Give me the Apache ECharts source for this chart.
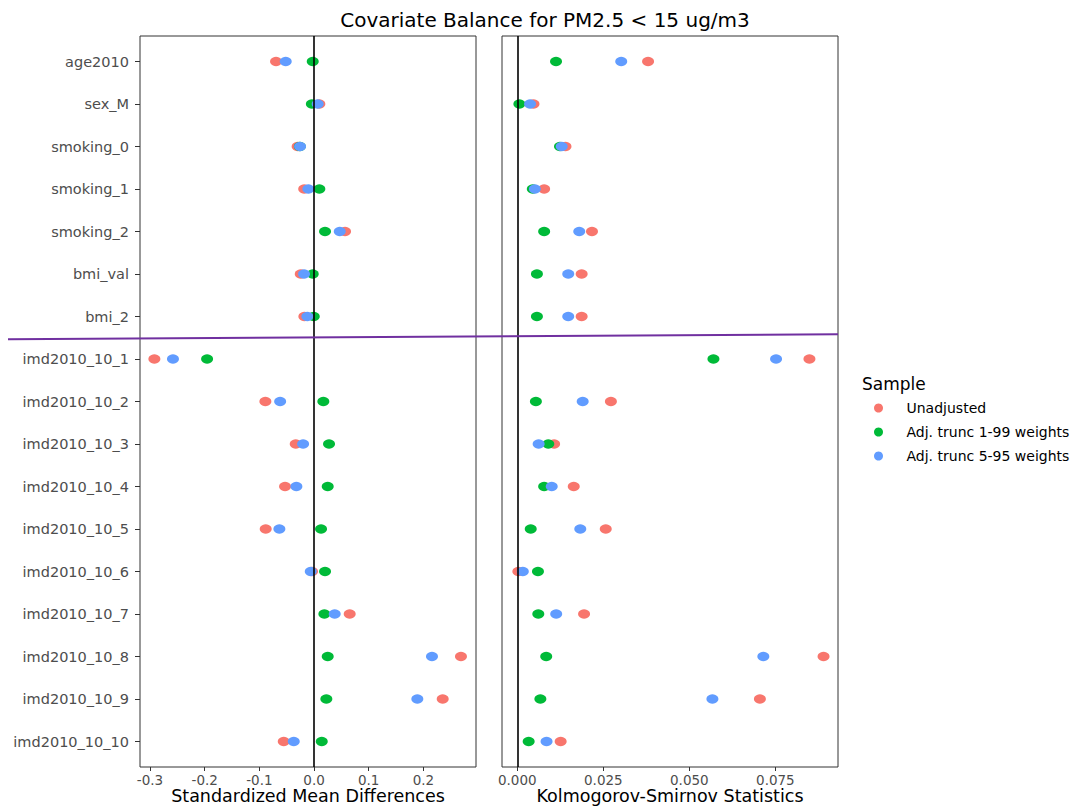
<!DOCTYPE html>
<html>
<head>
<meta charset="utf-8">
<script src="https://cdn.jsdelivr.net/npm/echarts@6/dist/echarts.min.js"></script>
<style>
html,body{margin:0;padding:0;background:#fff;}
#chart{width:1074px;height:808px;}
</style>
</head>
<body>
<div id="chart"></div>
<script>
const categories = ['age2010','sex_M','smoking_0','smoking_1','smoking_2','bmi_val','bmi_2',
  'imd2010_10_1','imd2010_10_2','imd2010_10_3','imd2010_10_4','imd2010_10_5',
  'imd2010_10_6','imd2010_10_7','imd2010_10_8','imd2010_10_9','imd2010_10_10'];
const seriesNames = ['Unadjusted','Adj. trunc 1-99 weights','Adj. trunc 5-95 weights'];
const seriesColors = ['#F8766D','#00BA38','#619CFF'];

const smdUnadj  = [-0.0695, 0.0097, -0.030, -0.018, 0.0567, -0.0243, -0.0177, -0.292, -0.089, -0.0335, -0.053, -0.0884, -0.0037, 0.0652, 0.2687, 0.2353, -0.0554];
const smdAdj199 = [-0.0024, -0.004, -0.026, 0.0097, 0.0201, -0.0024, -0.0005, -0.1956, 0.017, 0.0274, 0.025, 0.0128, 0.0201, 0.0189, 0.025, 0.0225, 0.0141];
const smdAdj595 = [-0.0518, 0.0067, -0.0256, -0.0104, 0.047, -0.0183, -0.0122, -0.258, -0.062, -0.020, -0.0323, -0.0634, -0.006, 0.0378, 0.2157, 0.1889, -0.0371];

const ksUnadj  = [0.038, 0.0047, 0.014, 0.0078, 0.0217, 0.0187, 0.0187, 0.0849, 0.0272, 0.0107, 0.0164, 0.0257, 0.0003, 0.0194, 0.089, 0.0705, 0.0126];
const ksAdj199 = [0.01125, 0.0006, 0.0124, 0.0045, 0.0078, 0.0057, 0.0057, 0.057, 0.0054, 0.009, 0.0078, 0.0039, 0.006, 0.0061, 0.0084, 0.0067, 0.0033];
const ksAdj595 = [0.0302, 0.0037, 0.0129, 0.0051, 0.018, 0.0148, 0.0148, 0.0752, 0.019, 0.0062, 0.01, 0.0183, 0.0016, 0.0113, 0.0715, 0.0567, 0.0085];

const smdTicks = [-0.3, -0.2, -0.1, 0, 0.1, 0.2];
const ksTicks = [0, 0.025, 0.05, 0.075];

const FONT = 'DejaVu Sans';
const catIdx = categories.map((c, i) => i);

function pts(vals) { return vals.map((v, i) => [v, i]); }

function mkSeries(name, color, vals, axisIdx, withZero) {
  const s = {
    name: name, type: 'scatter', xAxisIndex: axisIdx, yAxisIndex: axisIdx,
    data: pts(vals), symbol: 'circle', symbolSize: [12, 9.5],
    itemStyle: {color: color, opacity: 1}, emphasis: {disabled: true}, silent: true
  };
  if (withZero) {
    s.markLine = {
      silent: true, symbol: ['none','none'], label: {show: false},
      lineStyle: {color: '#000', width: 1.6, type: 'solid'},
      emphasis: {disabled: true},
      data: [{xAxis: 0}]
    };
  }
  return s;
}

const yAxisBase = {
  type: 'value', inverse: true, min: -0.6, max: 16.6,
  splitLine: {show: false}, axisLine: {show: false, onZero: false}
};

const option = {
  animation: false,
  backgroundColor: '#fff',
  title: [
    {text: 'Covariate Balance for PM2.5 < 15 ug/m3', left: 540, top: 5, textAlign: 'center',
     textStyle: {fontFamily: FONT, fontSize: 20, fontWeight: 'normal', color: '#000'}},
    {text: 'Sample', left: 857, top: 370,
     textStyle: {fontFamily: FONT, fontSize: 17, fontWeight: 'normal', color: '#000'}}
  ],
  legend: {
    orient: 'vertical', left: 869, top: 396, itemGap: 10,
    itemWidth: 12, itemHeight: 9, icon: 'circle',
    data: seriesNames,
    textStyle: {fontFamily: FONT, fontSize: 14, color: '#000', padding: [0, 0, 0, 17]},
    selectedMode: false
  },
  grid: [
    {left: 140, top: 36, width: 336, height: 731, show: true, borderColor: '#333', borderWidth: 1,
     backgroundColor: 'transparent', outerBoundsMode: 'none', containLabel: false},
    {left: 502, top: 36, width: 336, height: 731, show: true, borderColor: '#333', borderWidth: 1,
     backgroundColor: 'transparent', outerBoundsMode: 'none', containLabel: false}
  ],
  xAxis: [
    {type: 'value', gridIndex: 0, min: -0.3183, max: 0.2962, position: 'bottom',
     name: 'Standardized Mean Differences', nameLocation: 'middle', nameGap: 20, nameMoveOverlap: false,
     nameTextStyle: {fontFamily: FONT, fontSize: 17.5, color: '#000', verticalAlign: 'top'},
     splitLine: {show: false}, axisLine: {show: false, onZero: false},
     axisTick: {show: true, length: 4, customValues: smdTicks, lineStyle: {color: '#333'}},
     axisLabel: {customValues: smdTicks, margin: 6, fontFamily: FONT, fontSize: 13.5, color: '#4d4d4d',
       formatter: v => v.toFixed(1)}},
    {type: 'value', gridIndex: 1, min: -0.00445, max: 0.0932, position: 'bottom',
     name: 'Kolmogorov-Smirnov Statistics', nameLocation: 'middle', nameGap: 20, nameMoveOverlap: false,
     nameTextStyle: {fontFamily: FONT, fontSize: 17.5, color: '#000', verticalAlign: 'top'},
     splitLine: {show: false}, axisLine: {show: false, onZero: false},
     axisTick: {show: true, length: 4, customValues: ksTicks, lineStyle: {color: '#333'}},
     axisLabel: {customValues: ksTicks, margin: 6, fontFamily: FONT, fontSize: 13.5, color: '#4d4d4d',
       formatter: v => v.toFixed(3)}}
  ],
  yAxis: [
    Object.assign({gridIndex: 0,
      axisTick: {show: true, length: 5, customValues: catIdx, lineStyle: {color: '#333'}},
      axisLabel: {customValues: catIdx, margin: 11, fontFamily: FONT, fontSize: 14.5, color: '#4d4d4d',
        formatter: v => categories[Math.round(v)]}}, yAxisBase),
    Object.assign({gridIndex: 1,
      axisTick: {show: false}, axisLabel: {show: false}}, yAxisBase)
  ],
  series: [
    mkSeries(seriesNames[0], seriesColors[0], smdUnadj, 0, true),
    mkSeries(seriesNames[1], seriesColors[1], smdAdj199, 0, false),
    mkSeries(seriesNames[2], seriesColors[2], smdAdj595, 0, false),
    mkSeries(seriesNames[0], seriesColors[0], ksUnadj, 1, true),
    mkSeries(seriesNames[1], seriesColors[1], ksAdj199, 1, false),
    mkSeries(seriesNames[2], seriesColors[2], ksAdj595, 1, false)
  ],
  graphic: [
    {type: 'line', z: 100, silent: true,
     shape: {x1: 8, y1: 339.3, x2: 838, y2: 334.3},
     style: {stroke: '#7030A0', lineWidth: 2}}
  ]
};

const chart = echarts.init(document.getElementById('chart'), null, {renderer: 'svg'});
chart.setOption(option);
</script>
</body>
</html>
